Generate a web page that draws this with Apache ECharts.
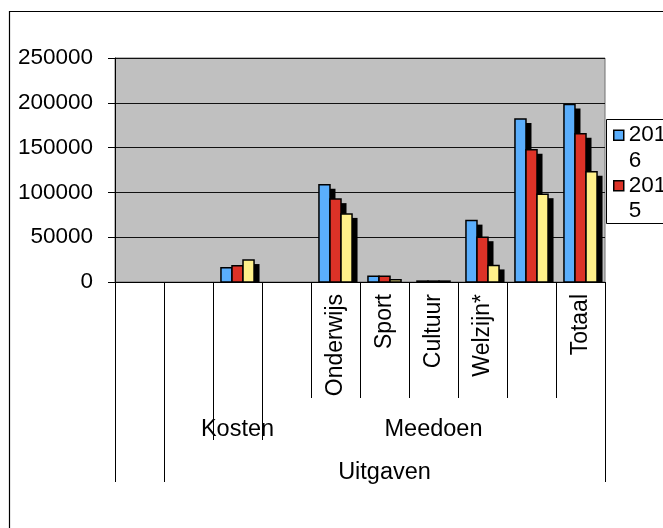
<!DOCTYPE html>
<html><head><meta charset="utf-8">
<script src="https://cdn.jsdelivr.net/npm/echarts@6/dist/echarts.min.js"></script>
<style>html,body{margin:0;padding:0;background:#fff}#c{width:663px;height:528px}</style>
</head><body><div id="c"></div>
<script>
// ---- data ----
const categories = ['', '', '', '', 'Onderwijs', 'Sport', 'Cultuur', 'Welzijn*', '', 'Totaal'];
const groupLabels = ['', '', 'Kosten', '', '', '', 'Meedoen', '', '', ''];
const topLabels = ['', '', '', '', '', 'Uitgaven', '', '', '', ''];
const seriesNames = ['2016', '2015', '2014'];
const legendNames = ['2016', '2015'];
const values2016 = [null, null, 16000, null, 108500, 6500, 1000, 68500, 182000, 198000];
const values2015 = [null, null, 18000, null, 92500, 6500, 1000, 50000, 147500, 165500];
const values2014 = [null, null, 24500, null, 76000, 2500, 1000, 18500, 98000, 123000];
const yMin = 0, yMax = 250000, yStep = 50000;

const FONT = 'Liberation Sans, Arial, sans-serif';
const colors = ['#5aaefc', '#dc3227', '#fff08a'];
const allValues = [values2016, values2015, values2014];

function toData(vals) {
  const out = [];
  vals.forEach((v, i) => { if (v != null) out.push([i, v]); });
  return out;
}

function makeRender(k) {
  return function (params, api) {
    const cat = api.value(0), v = api.value(1);
    const base = api.coord([cat, 0]);
    const top = api.coord([cat, v]);
    const band = api.size([1, 0])[0];
    const w = band * 0.225;
    const x = base[0] - 1.5 * w + k * w;
    const h = base[1] - top[1];
    const children = [];
    const sh = h - 4;
    if (sh > 0) {
      children.push({ type: 'rect', shape: { x: x + 5.5, y: top[1] + 4, width: w, height: sh }, style: { fill: '#000' } });
    }
    children.push({ type: 'rect', shape: { x: x, y: top[1], width: w, height: h },
      style: { fill: api.visual('color'), stroke: '#000', lineWidth: 1.5 } });
    return { type: 'group', children: children };
  };
}

const chart = echarts.init(document.getElementById('c'), null, { renderer: 'canvas' });

const option = {
  animation: false,
  backgroundColor: '#fff',
  textStyle: { fontFamily: FONT },
  grid: { left: 115, right: 58, top: 58, bottom: 246, show: true, backgroundColor: '#c0c0c0', borderColor: '#707070', borderWidth: 1 },
  legend: {
    data: legendNames, orient: 'vertical', left: 613, top: 97, padding: 0,
    itemWidth: 10, itemHeight: 10, itemGap: -26, icon: 'rect',
    formatter: function (name) { return '\n' + name; },
    itemStyle: { borderColor: '#000', borderWidth: 1.5 },
    textStyle: { fontSize: 22.5, color: '#000', fontFamily: FONT, width: 40, overflow: 'breakAll', lineHeight: 25.5 }
  },
  xAxis: [
    { type: 'category', data: categories, position: 'bottom', boundaryGap: true,
      axisLine: { show: true, lineStyle: { color: '#000', width: 1 } },
      axisTick: { show: true, interval: 0, length: 116, lineStyle: { color: '#000' } },
      axisLabel: { interval: 0, rotate: 90, fontSize: 23, margin: 12, color: '#000', fontFamily: FONT },
      splitLine: { show: false } },
    { type: 'category', data: groupLabels, position: 'bottom', offset: 116, boundaryGap: true,
      axisLine: { show: false },
      axisTick: { show: true, interval: function (i) { return i <= 3; }, length: 42, lineStyle: { color: '#000' } },
      axisLabel: { interval: 0, fontSize: 23.5, margin: 19.5, color: '#000', fontFamily: FONT },
      splitLine: { show: false } },
    { type: 'category', data: topLabels, position: 'bottom', offset: 158, boundaryGap: true,
      axisLine: { show: false },
      axisTick: { show: true, interval: function (i) { return i <= 1; }, length: 42, lineStyle: { color: '#000' } },
      axisLabel: { interval: 0, fontSize: 23.5, margin: 20.5, color: '#000', fontFamily: FONT },
      splitLine: { show: false } }
  ],
  yAxis: {
    type: 'value', min: yMin, max: yMax, interval: yStep,
    axisLine: { show: true, lineStyle: { color: '#000' } },
    axisTick: { show: true, length: 7, lineStyle: { color: '#000' } },
    axisLabel: { fontSize: 22.5, margin: 22, color: '#000', fontFamily: FONT, formatter: function (v) { return String(v); } },
    splitLine: { show: true, lineStyle: { color: '#111', width: 1 } }
  },
  graphic: [
    { type: 'rect', z: 0, silent: true, shape: { x: 9.5, y: 11.5, width: 700, height: 600 },
      style: { fill: 'none', stroke: '#000', lineWidth: 1.2 } },
    { type: 'rect', z: 1, silent: true, shape: { x: 606.5, y: 119.5, width: 80, height: 104 },
      style: { fill: '#fff', stroke: '#000', lineWidth: 1 } }
  ],
  series: seriesNames.map((name, k) => ({
    name: name, type: 'custom', xAxisIndex: 0, yAxisIndex: 0, clip: false,
    itemStyle: { color: colors[k] },
    encode: { x: 0, y: 1 },
    renderItem: makeRender(k),
    data: toData(allValues[k])
  }))
};
chart.setOption(option);
</script>
</body></html>
